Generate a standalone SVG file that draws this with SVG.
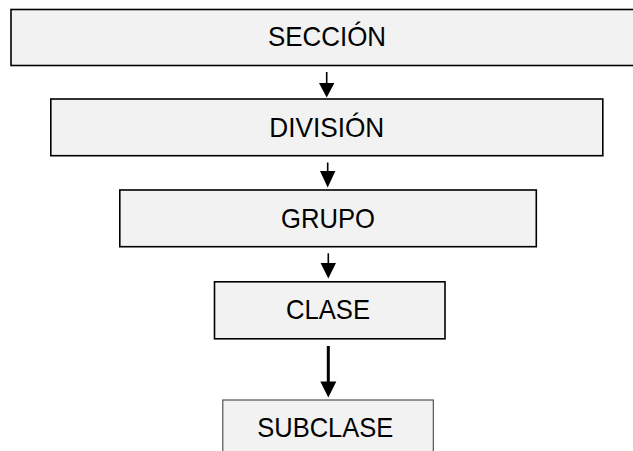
<svg xmlns="http://www.w3.org/2000/svg" width="633" height="451" viewBox="0 0 633 451">
<style>
.box{fill:#f2f2f2;stroke:#000;stroke-width:1.6}
.box2{fill:#f2f2f2;stroke:#444;stroke-width:1.1}
.lbl{font-family:"Liberation Sans",Arial,sans-serif;font-size:27.8px;fill:#000;text-anchor:middle}
.ar{stroke:#000;stroke-width:1.6;fill:none}
.ar2{stroke:#000;stroke-width:3;fill:none}
.hd{fill:#000}
</style>
<rect width="633" height="451" fill="#fff"/>
<g id="seccion"><rect class="box" x="11" y="9.5" width="630" height="56"/><text class="lbl" x="327" y="46.3" textLength="118" lengthAdjust="spacingAndGlyphs">SECCIÓN</text></g>
<g id="division"><rect class="box" x="50.8" y="99" width="552" height="56.7"/><text class="lbl" x="326.8" y="137.3" textLength="115" lengthAdjust="spacingAndGlyphs">DIVISIÓN</text></g>
<g id="grupo"><rect class="box" x="119.8" y="190" width="416.5" height="56.7"/><text class="lbl" x="328" y="227.6" textLength="94" lengthAdjust="spacingAndGlyphs">GRUPO</text></g>
<g id="clase"><rect class="box" x="214.5" y="281.8" width="230.5" height="57"/><text class="lbl" x="328" y="319.2" textLength="84" lengthAdjust="spacingAndGlyphs">CLASE</text></g>
<g id="subclase"><rect class="box2" x="222.8" y="400" width="210.5" height="56"/><text class="lbl" x="325.3" y="437" textLength="136" lengthAdjust="spacingAndGlyphs">SUBCLASE</text></g>
<g id="connectors">
<line class="ar" x1="326.7" y1="72" x2="326.7" y2="84"/><polygon class="hd" points="319,83 334.4,83 326.7,97.5"/>
<line class="ar" x1="327.7" y1="162.5" x2="327.7" y2="172"/><polygon class="hd" points="320,171 335.4,171 327.7,187.5"/>
<line class="ar" x1="328.3" y1="253.3" x2="328.3" y2="264"/><polygon class="hd" points="320.6,263 336,263 328.3,278.5"/>
<line class="ar2" x1="328.3" y1="346" x2="328.3" y2="383"/><polygon class="hd" points="320.3,381.5 336.3,381.5 328.3,397.5"/>
</g>
</svg>
